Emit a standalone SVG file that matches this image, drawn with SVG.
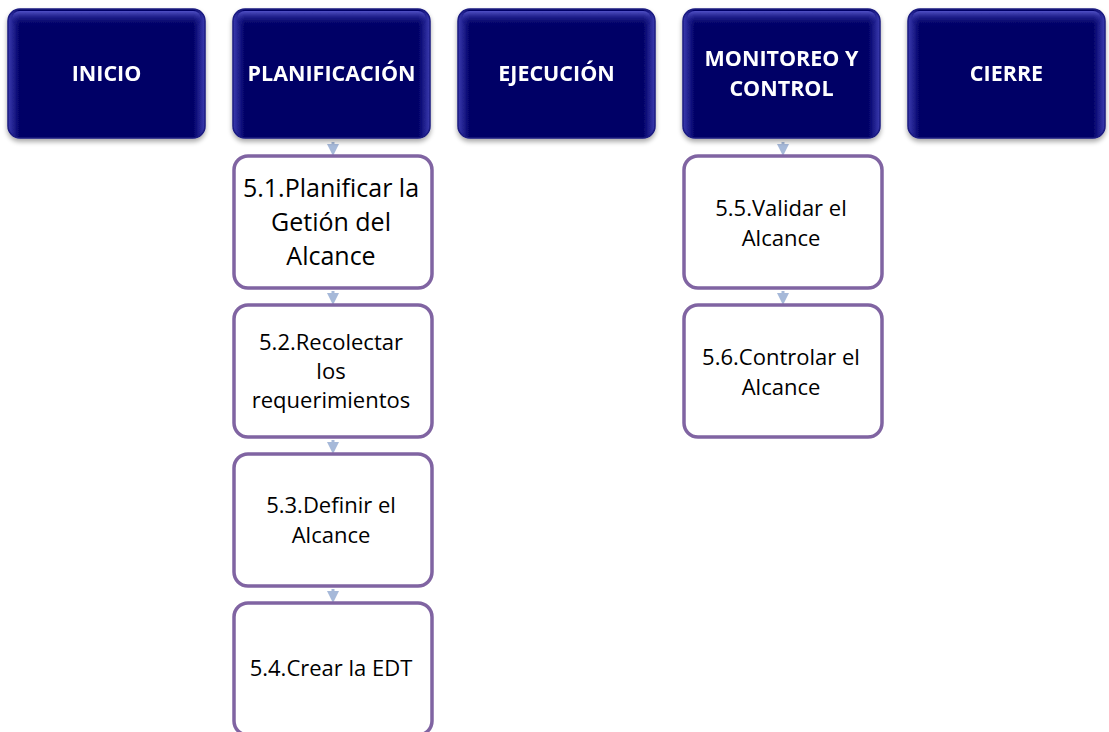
<svg xmlns="http://www.w3.org/2000/svg" width="1109" height="732" viewBox="0 0 1109 732">
<defs>
<linearGradient id="gTop" x1="0" y1="0" x2="0" y2="1">
<stop offset="0" stop-color="#5a5ad0" stop-opacity="0.9"/>
<stop offset="1" stop-color="#000066" stop-opacity="0"/>
</linearGradient>
<linearGradient id="gSide" x1="0" y1="0" x2="1" y2="0">
<stop offset="0" stop-color="#3b3bb0"/>
<stop offset="0.06" stop-color="#000066"/>
<stop offset="0.94" stop-color="#000066"/>
<stop offset="1" stop-color="#3b3bb0"/>
</linearGradient>
<filter id="sh" x="-10%" y="-10%" width="120%" height="130%">
<feGaussianBlur in="SourceAlpha" stdDeviation="2.5"/>
<feOffset dy="3"/>
<feComponentTransfer><feFuncA type="linear" slope="0.35"/></feComponentTransfer>
<feMerge><feMergeNode/><feMergeNode in="SourceGraphic"/></feMerge>
</filter>
<marker id="ar" viewBox="0 0 10 10" refX="5" refY="5" markerWidth="4" markerHeight="4" orient="auto">
<path d="M0,0 L10,5 L0,10 Z" fill="#a6b9d9"/>
</marker>
</defs>
<style>
.hd{fill:url(#gSide);stroke:#1a1a80;stroke-width:1.5}
.ht{fill:url(#gTop)}
.hx{font-family:"Open Sans","Liberation Sans",sans-serif;font-weight:bold;font-size:21.5px;fill:#ffffff;text-anchor:middle}
.sb{fill:#ffffff;stroke:#8064a2;stroke-width:3.5}
.st{font-family:"Open Sans","Liberation Sans",sans-serif;font-size:22px;fill:#000000;text-anchor:middle}
.st1{font-family:"Open Sans","Liberation Sans",sans-serif;font-size:25px;fill:#000000;text-anchor:middle}
.cn{stroke:#a6b9d9;stroke-width:3;fill:none}
</style>

<g id="connectors">
<path class="cn" d="M333,142 V150" marker-end="url(#ar)"/>
<path class="cn" d="M333,291 V299" marker-end="url(#ar)"/>
<path class="cn" d="M333,440 V448" marker-end="url(#ar)"/>
<path class="cn" d="M333,589 V597" marker-end="url(#ar)"/>
<path class="cn" d="M783,142 V150" marker-end="url(#ar)"/>
<path class="cn" d="M783,291 V299" marker-end="url(#ar)"/>
</g>

<g id="inicio" filter="url(#sh)">
<rect class="hd" x="8" y="9" width="197" height="129" rx="12"/>
<rect class="ht" x="12" y="11" width="189" height="16" rx="8"/>
<text class="hx" x="106.5" y="81">INICIO</text>
</g>
<g id="planificacion" filter="url(#sh)">
<rect class="hd" x="233" y="9" width="197" height="129" rx="12"/>
<rect class="ht" x="237" y="11" width="189" height="16" rx="8"/>
<text class="hx" x="331.5" y="81">PLANIFICACIÓN</text>
</g>
<g id="ejecucion" filter="url(#sh)">
<rect class="hd" x="458" y="9" width="197" height="129" rx="12"/>
<rect class="ht" x="462" y="11" width="189" height="16" rx="8"/>
<text class="hx" x="556.5" y="81">EJECUCIÓN</text>
</g>
<g id="monitoreo" filter="url(#sh)">
<rect class="hd" x="683" y="9" width="197" height="129" rx="12"/>
<rect class="ht" x="687" y="11" width="189" height="16" rx="8"/>
<text class="hx" x="781.5" y="66">MONITOREO Y</text>
<text class="hx" x="781.5" y="96">CONTROL</text>
</g>
<g id="cierre" filter="url(#sh)">
<rect class="hd" x="908" y="9" width="197" height="129" rx="12"/>
<rect class="ht" x="912" y="11" width="189" height="16" rx="8"/>
<text class="hx" x="1006.5" y="81">CIERRE</text>
</g>

<g id="p51">
<rect class="sb" x="234" y="156" width="198" height="132" rx="14"/>
<text class="st1" x="331" y="197">5.1.Planificar la</text>
<text class="st1" x="331" y="231">Getión del</text>
<text class="st1" x="331" y="265">Alcance</text>
</g>
<g id="p52">
<rect class="sb" x="234" y="305" width="198" height="132" rx="14"/>
<text class="st" x="331" y="350">5.2.Recolectar</text>
<text class="st" x="331" y="379">los</text>
<text class="st" x="331" y="408">requerimientos</text>
</g>
<g id="p53">
<rect class="sb" x="234" y="454" width="198" height="132" rx="14"/>
<text class="st" x="331" y="513">5.3.Definir el</text>
<text class="st" x="331" y="543">Alcance</text>
</g>
<g id="p54">
<rect class="sb" x="234" y="603" width="198" height="132" rx="14"/>
<text class="st" x="331" y="676">5.4.Crear la EDT</text>
</g>
<g id="p55">
<rect class="sb" x="684" y="156" width="198" height="132" rx="14"/>
<text class="st" x="781" y="216">5.5.Validar el</text>
<text class="st" x="781" y="246">Alcance</text>
</g>
<g id="p56">
<rect class="sb" x="684" y="305" width="198" height="132" rx="14"/>
<text class="st" x="781" y="365">5.6.Controlar el</text>
<text class="st" x="781" y="395">Alcance</text>
</g>
</svg>
